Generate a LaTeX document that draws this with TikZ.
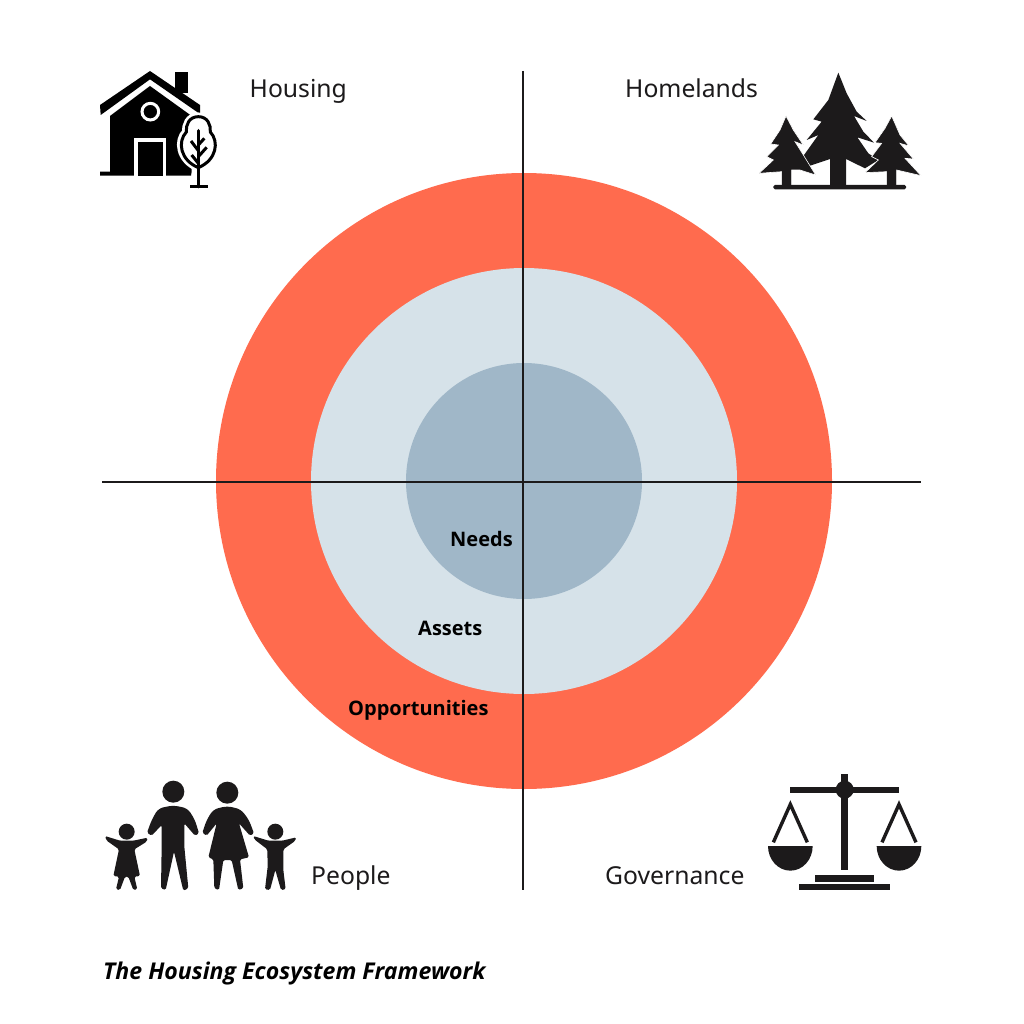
\documentclass[tikz,border=0pt]{standalone}
\usepackage{fontspec}
\setmainfont{Noto Sans}
\newfontfamily\ringfont{Open Sans}
\definecolor{ink}{HTML}{1C1A1B}
\definecolor{coral}{HTML}{FF6B4E}
\definecolor{pale}{HTML}{D6E2E9}
\definecolor{steel}{HTML}{A0B7C8}
\tikzset{
  lbl/.style={anchor=base west,inner sep=0pt,font=\fontsize{24.7}{30}\selectfont,text=ink},
  ring/.style={anchor=base west,inner sep=0pt,font=\ringfont\bfseries\fontsize{20}{24}\selectfont,text=black},
  axis/.style={draw=ink,line width=2pt},
  zoomA/.style={shift={(90,60)},x=0.33333pt,y=-0.33333pt},
  zoomB/.style={shift={(750,60)},x=0.33333pt,y=-0.33333pt},
  zoomC/.style={shift={(95,770)},x=0.33333pt,y=-0.33333pt},
  zoomD/.style={shift={(760,765)},x=0.33333pt,y=-0.33333pt},
}
\begin{document}
\begin{tikzpicture}[x=1pt,y=-1pt]
\useasboundingbox[fill=white] (0,0) rectangle (1024,1024);
% rings
\fill[coral] (524,481) circle[radius=308];
\fill[pale] (524,481) circle[radius=213];
\fill[steel] (524,481) circle[radius=118];
% axes
\coordinate (axT) at (522.5,71);
\coordinate (axB) at (522.5,890);
\coordinate (axL) at (102,481.5);
\coordinate (axR) at (921,481.5);
\draw[axis] (axT) -- (axB);
\draw[axis] (axL) -- (axR);
% labels
\node[lbl] (housing) at (249.5,98) {Housing};
\node[lbl] (homelands) at (625,98) {Homelands};
\node[lbl] (people) at (311,884) {People};
\node[lbl] (governance) at (605,884) {Governance};
\node[ring] (needs) at (450,546) {Needs};
\node[ring] (assets) at (418,635) {Assets};
\node[ring] (opps) at (348,715) {Opportunities};
\node[anchor=base west,inner sep=0pt,font=\ringfont\bfseries\itshape\fontsize{23.1}{27}\selectfont,text=black] (title) at (103,979) {The Housing Ecosystem Framework};
% house
\begin{scope}[zoomA]
\fill[black] (255,35) rectangle (295,100);
\fill[black] (30,135) -- (180,33) -- (330,135) -- (330,162) -- (180,58) -- (32,165) -- cycle;
\fill[black] (60,168) -- (180,78) -- (305,168) -- (305,335) -- (303,347) -- (30,347) -- (30,335) -- (60,335) -- cycle;
\fill[white] (132,235) rectangle (228,347);
\fill[black] (143,247) rectangle (218,347);
\draw[white,line width=3pt,fill=black] (181,155) circle[radius=25];
\draw[white,line width=7pt,fill=white] (325,168) .. controls (295,168) and (285,195) .. (287,215) .. controls (260,240) and (265,300) .. (325,325) .. controls (385,300) and (390,240) .. (363,215) .. controls (365,195) and (355,168) .. (325,168) -- cycle;
\draw[black,line width=3pt] (325,170) .. controls (297,170) and (287,195) .. (289,216) .. controls (262,245) and (270,300) .. (325,323) .. controls (380,300) and (388,245) .. (361,216) .. controls (363,195) and (353,170) .. (325,170) -- cycle;
\draw[black,line width=3.4pt,line cap=round] (325,212) -- (325,380);
\draw[black,line width=3pt] (343,235) -- (325,255);
\draw[black,line width=3pt] (303,243) -- (325,272);
\draw[black,line width=3pt] (350,262) -- (325,290);
\draw[black,line width=3pt] (305,285) -- (325,310);
\fill[black] (300,376) rectangle (355,385);
\end{scope}
% trees
\begin{scope}[zoomB]
\fill[ink] (265,38) -- (290,100) -- (320,155) -- (350,183) -- (312,168) -- (340,215) -- (372,248) -- (322,232) -- (355,280) -- (385,300) -- (345,325) -- (288,297) -- (288,378) -- (240,378) -- (240,297) -- (165,322) -- (155,295) -- (205,225) -- (170,240) -- (215,185) -- (190,178) -- (235,120) -- cycle;
\fill[ink,draw=white,line width=0.6pt] (108,168) -- (130,210) -- (160,255) -- (135,245) -- (160,285) -- (197,345) -- (150,330) -- (125,330) -- (125,378) -- (95,378) -- (95,335) -- (27,340) -- (70,300) -- (50,290) -- (85,255) -- (62,252) -- (90,210) -- cycle;
\fill[ink,draw=white,line width=0.6pt] (425,168) -- (450,225) -- (477,258) -- (450,250) -- (490,297) -- (465,295) -- (513,347) -- (440,330) -- (440,378) -- (410,378) -- (410,335) -- (345,338) -- (385,300) -- (365,290) -- (395,250) -- (375,248) -- (405,205) -- cycle;
\fill[ink,rounded corners=1.5pt] (70,375) rectangle (468,388);
\end{scope}
% people
\begin{scope}[zoomC,rounded corners=1.5pt]
\fill[ink] (235,65) circle[radius=33];
\fill[ink] (397,68) circle[radius=33];
\fill[ink] (95,185) circle[radius=24];
\fill[ink] (541,185) circle[radius=24];
\fill[ink] (235,106) [rounded corners=5pt] -- (278,115) -- (300,150) [rounded corners=1.5pt] -- (312,190) -- (300,197) -- (268,160) -- (268,230) -- (280,355) -- (265,362) -- (237,245) -- (212,360) -- (198,355) -- (200,230) -- (200,165) -- (170,197) -- (156,188) [rounded corners=5pt] -- (170,150) -- (190,115) -- cycle;
\fill[ink] (397,108) [rounded corners=5pt] -- (438,118) -- (462,150) [rounded corners=1.5pt] -- (477,190) -- (465,197) -- (432,160) -- (462,262) -- (435,268) -- (445,355) -- (430,360) -- (410,270) -- (385,270) -- (372,360) -- (358,355) -- (355,268) -- (340,262) -- (365,160) -- (335,197) -- (322,188) [rounded corners=5pt] -- (335,150) -- (355,118) -- cycle;
\fill[ink] (30,198) -- (75,212) -- (115,212) -- (158,203) -- (155,215) -- (118,238) -- (135,318) -- (118,320) -- (127,358) -- (115,360) -- (100,320) -- (90,320) -- (75,360) -- (63,358) -- (72,320) -- (55,318) -- (72,238) -- (35,212) -- cycle;
\fill[ink] (475,198) -- (520,212) -- (562,212) -- (604,202) -- (600,213) -- (565,238) -- (565,300) -- (572,358) -- (558,360) -- (541,300) -- (525,360) -- (510,358) -- (518,290) -- (517,238) -- (478,208) -- cycle;
\end{scope}
% scales
\begin{scope}[zoomD]
\fill[ink] (90,65) rectangle (417,85);
\fill[ink] (244,28) rectangle (264,315);
\fill[ink] (254,74) circle[radius=27];
\fill[ink] (166,331) rectangle (342,350);
\fill[ink] (117,358) rectangle (391,376);
\fill[ink] (24,243) -- (158,243) arc[start angle=0,end angle=180,x radius=67,y radius=74] -- cycle;
\fill[ink] (350,243) -- (484,243) arc[start angle=0,end angle=180,x radius=67,y radius=74] -- cycle;
\draw[ink,line width=3.4pt,miter limit=10] (40,232) -- (91,118) -- (142,232);
\draw[ink,line width=3.4pt,miter limit=10] (366,232) -- (417,118) -- (468,232);
\end{scope}
\end{tikzpicture}
\end{document}
